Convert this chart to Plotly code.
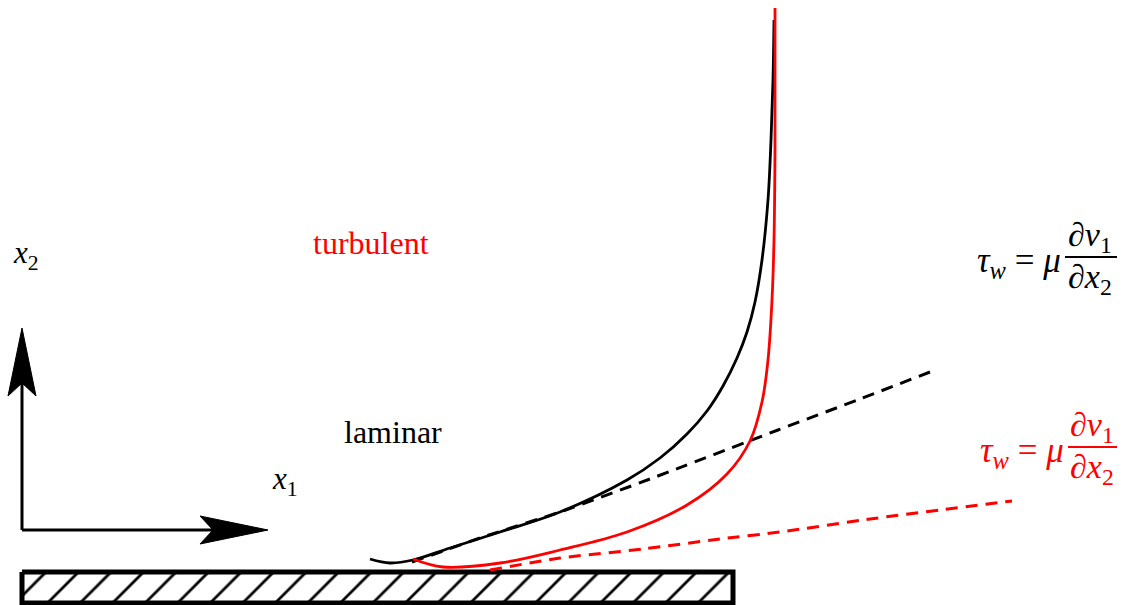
import plotly.graph_objects as go

W, H = 1132, 605

# ---- data (drawing units = screen pixels, y measured downward) ----
lam_x = [370, 390, 413, 450, 500, 560, 627, 660, 687, 707, 723, 737, 747, 755, 762, 768, 771, 773, 774]
lam_y = [559, 563, 560, 548, 532, 512, 480, 458, 434, 411, 386, 358, 332, 302, 260, 200, 140, 80, 20]

turb_x = [413, 443, 500, 560, 627, 687, 727, 750, 762, 768, 772, 774, 775, 775]
turb_y = [559, 567, 563, 550, 532, 505, 474, 441, 402, 360, 300, 240, 150, 8]

lam_tan_x = [412, 480, 560, 650, 778, 860, 930]
lam_tan_y = [562, 538, 512, 479, 430, 399, 372]

turb_tan_x = [490, 560, 643, 720, 780, 870, 940, 1012]
turb_tan_y = [570, 558, 549, 539, 532, 519, 510, 501]

wall_x = [22, 733]
wall_y = [572, 603]

axis_origin = (22, 530)
axis_tips = {"x1": (268, 530), "x2": (22, 328)}

fig = go.Figure()

# wall with hatching
fig.add_trace(go.Scatter(
    x=[wall_x[0], wall_x[1], wall_x[1], wall_x[0], wall_x[0]],
    y=[wall_y[0], wall_y[0], wall_y[1], wall_y[1], wall_y[0]],
    mode="lines", fill="toself", fillcolor="white",
    fillpattern=dict(shape="/", size=23, solidity=0.12, fgcolor="black",
                     fgopacity=1, bgcolor="white"),
    line=dict(color="black", width=5), hoverinfo="skip", showlegend=False))

fig.add_trace(go.Scatter(x=lam_tan_x, y=lam_tan_y, mode="lines",
                         line=dict(color="black", width=3, dash="12px,8px", shape="spline", smoothing=0.6),
                         showlegend=False))
fig.add_trace(go.Scatter(x=turb_tan_x, y=turb_tan_y, mode="lines",
                         line=dict(color="#ff0000", width=3, dash="12px,8px", shape="spline", smoothing=0.6),
                         showlegend=False))
fig.add_trace(go.Scatter(x=lam_x, y=lam_y, mode="lines",
                         line=dict(color="black", width=2.8, shape="spline", smoothing=1.0),
                         showlegend=False))
fig.add_trace(go.Scatter(x=turb_x, y=turb_y, mode="lines",
                         line=dict(color="#ff0000", width=2.8, shape="spline", smoothing=1.0),
                         showlegend=False))

# coordinate arrows
def arrow(origin, tip, head_len=68, half_w=14, notch=13):
    ox, oy = origin
    tx, ty = tip
    dx, dy = tx - ox, ty - oy
    L = (dx * dx + dy * dy) ** 0.5
    ux, uy = dx / L, dy / L
    px, py = -uy, ux
    bx, by = tx - ux * head_len, ty - uy * head_len
    nx, ny = tx - ux * (head_len - notch), ty - uy * (head_len - notch)
    shaft = dict(type="line", x0=ox, y0=oy, x1=nx, y1=ny, xref="x", yref="y",
                 line=dict(color="black", width=3))
    head = dict(type="path", xref="x", yref="y",
                path=f"M{tx},{ty} L{bx + px * half_w},{by + py * half_w} L{nx},{ny} "
                     f"L{bx - px * half_w},{by - py * half_w} Z",
                fillcolor="black", line=dict(color="black", width=1))
    return [shaft, head]

shapes = []
for t in axis_tips.values():
    shapes += arrow(axis_origin, t)

# fraction bars
shapes.append(dict(type="line", xref="x", yref="y", x0=1065, x1=1117, y0=257, y1=257,
                   line=dict(color="black", width=2)))
shapes.append(dict(type="line", xref="x", yref="y", x0=1068, x1=1117, y0=447, y1=447,
                   line=dict(color="#ff0000", width=2)))

serif = "Liberation Serif"
def txt(x, y, s, color="black", size=32, xanchor="center"):
    return dict(x=x, y=y, xref="x", yref="y", text=s, showarrow=False,
                xanchor=xanchor, yanchor="middle",
                font=dict(family=serif, size=size, color=color))

ann = [
    txt(371, 243, "turbulent", "#ff0000", size=32),
    txt(393, 432, "laminar", size=32),
    txt(26, 255, "<i>x</i><sub>2</sub>", size=31),
    txt(285, 481, "<i>x</i><sub>1</sub>", size=31),
    txt(1063, 262, "<i>τ</i><sub><i>w</i></sub> = <i>μ</i>", size=35, xanchor="right"),
    txt(1090, 237, "∂<i>v</i><sub>1</sub>", size=34),
    txt(1090, 279, "∂<i>x</i><sub>2</sub>", size=34),
    txt(1066, 452, "<i>τ</i><sub><i>w</i></sub> = <i>μ</i>", "#ff0000", size=35, xanchor="right"),
    txt(1092, 427, "∂<i>v</i><sub>1</sub>", "#ff0000", size=34),
    txt(1092, 469, "∂<i>x</i><sub>2</sub>", "#ff0000", size=34),
]

fig.update_layout(
    width=W, height=H, margin=dict(l=0, r=0, t=0, b=0),
    paper_bgcolor="white", plot_bgcolor="white",
    xaxis=dict(range=[0, W], visible=False, fixedrange=True),
    yaxis=dict(range=[H, 0], visible=False, fixedrange=True),
    shapes=shapes, annotations=ann, showlegend=False,
)

fig.write_html("out.html", config={"displayModeBar": False},
               post_script="document.body.style.margin='0';document.body.style.overflow='hidden';")
